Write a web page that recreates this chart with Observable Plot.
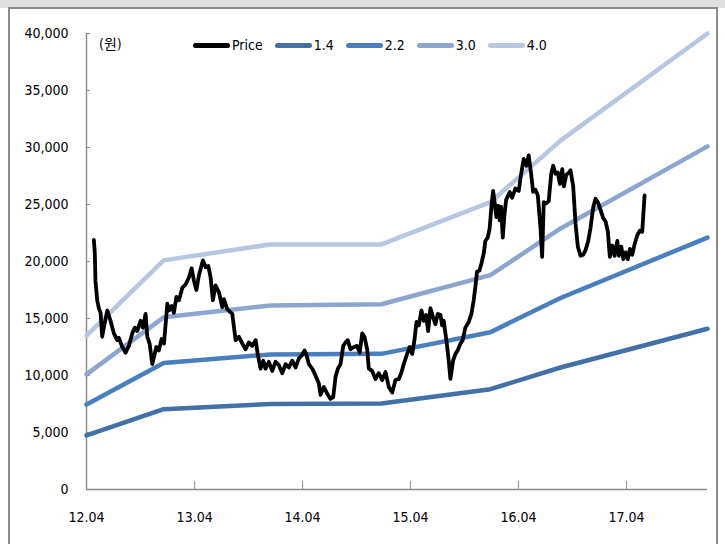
<!DOCTYPE html>
<html>
<head>
<meta charset="utf-8">
<script src="https://cdn.jsdelivr.net/npm/d3@7"></script>
<script src="https://cdn.jsdelivr.net/npm/@observablehq/plot@0.6"></script>
<style>
  html, body { margin: 0; padding: 0; background: #fff; }
  #wrap { position: relative; width: 725px; height: 544px; overflow: hidden; background: #fff;
          font-family: "DejaVu Sans Condensed", "Noto Sans CJK KR", sans-serif; }
  #topband { position: absolute; left: 0; top: 0; width: 725px; height: 8px; background: #e0e0e0; }
  #frame { position: absolute; left: 8px; top: 7px; width: 706px; height: 540px;
           border: 2px solid #8c8c8c; border-bottom: none; }
  #chart { position: absolute; left: 0; top: 0; }
  #unit { position: absolute; left: 99px; top: 33px; font-size: 14px; color: #000; }
  #legend { position: absolute; left: 193px; top: 37px; display: flex; align-items: center; gap: 12px; font-size: 14px; color:#000; }
  .item { display: flex; align-items: center; }
  .sw { width: 37px; height: 5px; border-radius: 3px; margin-right: 2px; }
</style>
</head>
<body>
<div id="wrap">
  <div id="topband"></div>
  <div id="frame"></div>
  <div id="chart"></div>
  <div id="unit">(원)</div>
  <div id="legend"></div>
</div>
<script>
// ---- Data (decimal years, values in KRW) ----
const priceT = [
  2012.318,2012.327,2012.333,2012.349,2012.364,2012.380,2012.395,2012.410,2012.442,2012.472,
  2012.503,2012.534,2012.549,2012.581,2012.611,2012.642,2012.673,2012.697,2012.719,2012.750,
  2012.771,2012.796,2012.812,2012.833,2012.858,2012.873,2012.895,2012.919,2012.944,2012.966,
  2012.997,2013.012,2013.037,2013.058,2013.081,2013.105,2013.136,2013.167,2013.197,2013.222,
  2013.244,2013.266,2013.290,2013.327,2013.352,2013.377,2013.398,2013.419,2013.444,2013.475,
  2013.506,2013.521,2013.553,2013.599,2013.630,2013.660,2013.692,2013.722,2013.753,2013.784,
  2013.815,2013.836,2013.861,2013.886,2013.907,2013.938,2013.969,2014.000,2014.031,2014.062,
  2014.093,2014.123,2014.155,2014.185,2014.216,2014.247,2014.269,2014.287,2014.308,2014.340,
  2014.370,2014.401,2014.417,2014.447,2014.479,2014.509,2014.534,2014.556,2014.577,2014.602,
  2014.627,2014.648,2014.669,2014.694,2014.725,2014.756,2014.780,2014.803,2014.824,2014.849,
  2014.864,2014.895,2014.926,2014.956,2014.988,2015.019,2015.049,2015.081,2015.111,2015.142,
  2015.164,2015.188,2015.219,2015.244,2015.266,2015.287,2015.306,2015.327,2015.352,2015.373,
  2015.395,2015.414,2015.435,2015.460,2015.481,2015.503,2015.528,2015.544,2015.558,2015.583,
  2015.605,2015.620,2015.645,2015.667,2015.688,2015.713,2015.734,2015.759,2015.790,2015.815,
  2015.836,2015.852,2015.867,2015.889,2015.907,2015.929,2015.944,2015.966,2015.984,2016.000,
  2016.016,2016.031,2016.046,2016.062,2016.077,2016.090,2016.105,2016.120,2016.136,2016.155,
  2016.170,2016.192,2016.222,2016.253,2016.275,2016.299,2016.324,2016.345,2016.367,2016.386,
  2016.407,2016.429,2016.454,2016.469,2016.484,2016.506,2016.530,2016.553,2016.571,2016.593,
  2016.614,2016.633,2016.655,2016.670,2016.692,2016.716,2016.731,2016.756,2016.778,2016.799,
  2016.824,2016.849,2016.870,2016.895,2016.917,2016.942,2016.963,2016.984,2017.009,2017.034,
  2017.056,2017.077,2017.095,2017.118,2017.139,2017.164,2017.179,2017.201,2017.220,2017.241,
  2017.262,2017.281,2017.303,2017.324,2017.349,2017.373,2017.395,2017.417
];
const priceV = [
  21900,20700,18300,16600,15900,15500,13400,14200,15700,14800,
  13700,13100,13300,12500,12000,12600,13700,14200,13900,14800,
  14200,15400,13400,12800,11000,11600,12500,12200,13200,12800,
  16300,15700,16100,15500,16900,16600,17700,18000,18600,19400,
  18300,17500,18800,20100,19500,19600,18600,16600,17900,17300,
  16000,16700,15800,15400,13100,13400,12800,12300,12900,12600,
  13100,11800,10600,11300,10600,11200,10400,11200,10900,10200,
  11000,10700,11300,10700,11500,11800,12200,11800,11000,10600,
  10000,9300,8300,9000,8400,7950,8100,9900,10600,11000,
  12600,12900,13100,12300,12500,12600,12000,13700,13400,12300,
  10600,10400,9700,10200,9600,10300,9000,8500,9600,9700,
  10200,11000,11900,12500,11900,13100,14700,14400,15700,14800,
  15300,13900,15900,15100,14500,15400,15300,14400,14800,13100,
  11300,9700,11300,11900,12200,12800,13100,14200,14700,15400,
  16600,17800,19100,19200,19800,20700,21800,22100,22900,24800,
  26200,25100,23900,24900,23600,24800,22100,24000,25400,25800,
  26100,25600,26400,26200,27700,29000,28400,29300,27700,26100,
  26300,25800,22900,20400,25200,25100,25300,27700,28400,27700,
  27800,26800,28100,26600,27600,27800,28000,26600,23300,21300,
  20500,20600,21000,21800,23000,24800,25500,25200,24500,23800,
  23500,22600,20400,21400,20500,21800,20500,21300,20200,20800,
  20200,21100,20600,21500,22300,22700,22600,25800
];
// PBR band lines (breakpoints)
const bandT  = [2012.25, 2012.963, 2013.954, 2014.981, 2015.991, 2016.639, 2018.0];
const band14 = [4750, 7050, 7500, 7550, 8800, 10700, 14100];
const band22 = [7450, 11100, 11850, 11900, 13800, 16800, 22100];
const band30 = [10100, 15100, 16150, 16250, 18800, 22900, 30100];
const band40 = [13500, 20100, 21500, 21500, 25200, 30600, 40000];

const seriesNames  = ["Price", "1.4", "2.2", "3.0", "4.0"];
const seriesColors = ["#000000", "#4270A7", "#4A7FBF", "#8DA6D0", "#B7C6E1"];

const yTicks = [0, 5000, 10000, 15000, 20000, 25000, 30000, 35000, 40000];
const xTickT = [2012.25, 2013.25, 2014.25, 2015.25, 2016.25, 2017.25];
const xTickLabels = ["12.04", "13.04", "14.04", "15.04", "16.04", "17.04"];
const xDomainT = [2012.25, 2018.0];

// ---- Build ----
function toDate(t) {
  const y = Math.floor(t);
  const s = Date.UTC(y, 0, 1), e = Date.UTC(y + 1, 0, 1);
  return new Date(s + (t - y) * (e - s));
}
const priceRows = priceT.map((t, i) => ({date: toDate(t), value: priceV[i]}));
const bandSets = [["1.4", band14], ["2.2", band22], ["3.0", band30], ["4.0", band40]];
const bandRows = bandSets.flatMap(([name, vals]) => bandT.map((t, i) => ({date: toDate(t), value: vals[i], series: name})));
const xTicks = xTickT.map(toDate);
const xLabel = d => { const i = xTicks.findIndex(t => +t === +d); return i >= 0 ? xTickLabels[i] : ""; };
const xDomain = xDomainT.map(toDate);

const font = '"DejaVu Sans Condensed", "Noto Sans CJK KR", sans-serif';

const chart = Plot.plot({
  width: 725,
  height: 544,
  marginLeft: 86,
  marginRight: 18,
  marginTop: 33,
  marginBottom: 55,
  style: {fontFamily: font, fontSize: "14px", color: "#000", background: "transparent", overflow: "visible"},
  x: {type: "utc", domain: xDomain, label: null},
  y: {domain: [0, 40000], label: null},
  color: {domain: seriesNames, range: seriesColors},
  marks: [
    Plot.ruleY([0], {stroke: "#8c8c8c", strokeWidth: 1.5}),
    Plot.ruleX([xDomain[0]], {y1: 0, y2: 40000, stroke: "#8c8c8c", strokeWidth: 1.5}),
    Plot.axisY({ticks: yTicks, label: null, tickSize: -4, tickPadding: 22, tickFormat: d3.format(","), stroke: "#8c8c8c", fill: "#000"}),
    Plot.axisX({ticks: xTicks, label: null, tickSize: -8, tickPadding: 31, tickFormat: xLabel, stroke: "#8c8c8c", fill: "#000"}),
    Plot.line(bandRows, {x: "date", y: "value", z: "series", stroke: "series", strokeWidth: 4.5, strokeLinejoin: "round"}),
    Plot.line(priceRows, {x: "date", y: "value", stroke: "#000", strokeWidth: 3.8, strokeLinejoin: "round", strokeLinecap: "round"})
  ]
});
document.getElementById("chart").appendChild(chart);

// legend
const legend = document.getElementById("legend");
seriesNames.forEach((name, i) => {
  const item = document.createElement("div");
  item.className = "item";
  const sw = document.createElement("div");
  sw.className = "sw";
  sw.style.background = seriesColors[i];
  const tx = document.createElement("span");
  tx.textContent = name;
  item.appendChild(sw);
  item.appendChild(tx);
  legend.appendChild(item);
});
</script>
</body>
</html>
